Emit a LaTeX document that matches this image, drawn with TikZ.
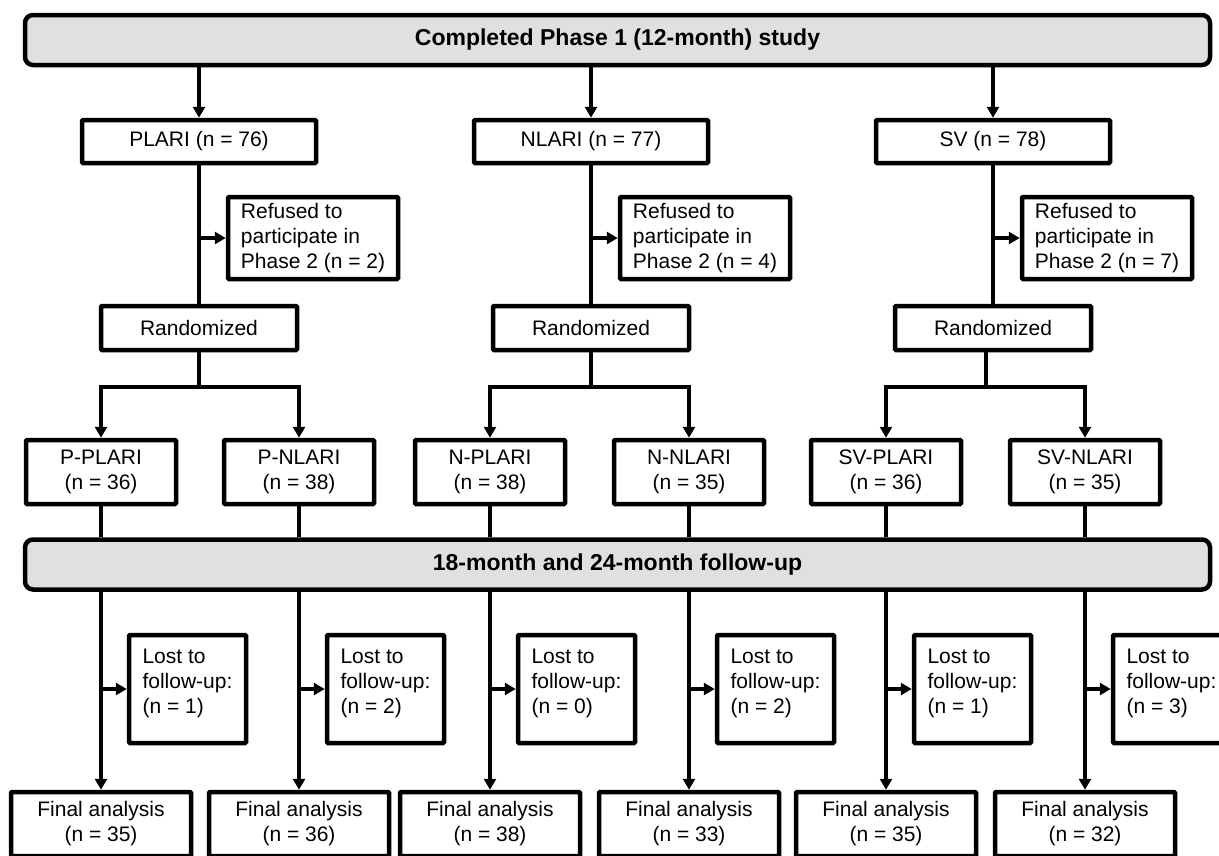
\documentclass[tikz,border=0pt]{standalone}
\usepackage{fontspec}
\setmainfont{Liberation Sans}
\usetikzlibrary{arrows.meta}
\definecolor{bannergray}{RGB}{224,224,224}
\tikzset{
  banner/.style={draw, fill=bannergray, line width=4.5pt, rounded corners=8pt,
    minimum width=1185pt, minimum height=50pt, font=\fontsize{23}{27}\selectfont\bfseries},
  armbox/.style={draw, line width=4.5pt, rounded corners=1pt, minimum width=234pt, minimum height=43pt},
  refbox/.style={draw, line width=4.5pt, rounded corners=1pt, align=left, minimum width=170pt, minimum height=82pt},
  randbox/.style={draw, line width=4.5pt, rounded corners=1pt, minimum width=196pt, minimum height=44pt},
  groupbox/.style={draw, line width=4.5pt, rounded corners=1pt, align=center, minimum width=150pt, minimum height=64pt},
  lostbox/.style={draw, line width=4.5pt, rounded corners=1pt, align=left, text depth=16pt,
    minimum width=117pt, minimum height=108pt},
  finalbox/.style={draw, line width=4.5pt, rounded corners=1pt, align=center, minimum width=180pt, minimum height=64pt},
  flow/.style={line width=3.3pt},
}
\begin{document}
\begin{tikzpicture}[x=1pt, y=-1pt, font=\fontsize{21}{25}\selectfont,
  >={Triangle[length=11pt,width=12pt]}]
\useasboundingbox (0,0) rectangle (1219,855);
\clip (0,0) rectangle (1219,855);

% phase 1
\node[banner] (top) at (617.5,40) {Completed Phase 1 (12-month) study};
\node[armbox] (plari) at (199,141.5) {PLARI (n = 76)};
\node[armbox] (nlari) at (591,141.5) {NLARI (n = 77)};
\node[armbox] (sv) at (993,141.5) {SV (n = 78)};

\node[refbox] (ref1) at (313,238) {Refused to\\participate in\\Phase 2 (n = 2)};
\node[refbox] (ref2) at (705,238) {Refused to\\participate in\\Phase 2 (n = 4)};
\node[refbox] (ref3) at (1107,238) {Refused to\\participate in\\Phase 2 (n = 7)};

\node[randbox] (rand1) at (199,328) {Randomized};
\node[randbox] (rand2) at (591,328) {Randomized};
\node[randbox] (rand3) at (993,328) {Randomized};

\coordinate (split1) at (199,387);
\coordinate (split2) at (591,387);
\coordinate (split3) at (986,387);

% phase 2 groups
\node[groupbox] (pp) at (101,472) {P-PLARI\\(n = 36)};
\node[groupbox] (pn) at (299,472) {P-NLARI\\(n = 38)};
\node[groupbox] (np) at (490,472) {N-PLARI\\(n = 38)};
\node[groupbox] (nn) at (689,472) {N-NLARI\\(n = 35)};
\node[groupbox] (sp) at (886,472) {SV-PLARI\\(n = 36)};
\node[groupbox] (sn) at (1085,472) {SV-NLARI\\(n = 35)};

\node[banner] (fu) at (617.5,564.5) {18-month and 24-month follow-up};

\node[lostbox] (lost1) at (187.5,689) {Lost to\\follow-up:\\(n = 1)};
\node[lostbox] (lost2) at (385.5,689) {Lost to\\follow-up:\\(n = 2)};
\node[lostbox] (lost3) at (576.5,689) {Lost to\\follow-up:\\(n = 0)};
\node[lostbox] (lost4) at (775.5,689) {Lost to\\follow-up:\\(n = 2)};
\node[lostbox] (lost5) at (972.5,689) {Lost to\\follow-up:\\(n = 1)};
\node[lostbox] (lost6) at (1171.5,689) {Lost to\\follow-up:\\(n = 3)};

\node[finalbox] (fin1) at (101,824) {Final analysis\\(n = 35)};
\node[finalbox] (fin2) at (299,824) {Final analysis\\(n = 36)};
\node[finalbox] (fin3) at (490,824) {Final analysis\\(n = 38)};
\node[finalbox] (fin4) at (689,824) {Final analysis\\(n = 33)};
\node[finalbox] (fin5) at (886,824) {Final analysis\\(n = 35)};
\node[finalbox] (fin6) at (1085,824) {Final analysis\\(n = 32)};

% connectors
\draw[flow,->] (top.south -| plari) -- (plari.north);
\draw[flow,->] (top.south -| nlari) -- (nlari.north);
\draw[flow,->] (top.south -| sv) -- (sv.north);

\draw[flow] (plari.south) -- (rand1.north);
\draw[flow] (nlari.south) -- (rand2.north);
\draw[flow] (sv.south) -- (rand3.north);
\draw[flow,->] (ref1.west -| plari) -- (ref1.west);
\draw[flow,->] (ref2.west -| nlari) -- (ref2.west);
\draw[flow,->] (ref3.west -| sv) -- (ref3.west);

\draw[flow] (rand1.south) -- (split1);
\draw[flow] (rand2.south) -- (split2);
\draw[flow] (rand3.south -| split3) -- (split3);
\draw[flow,->] (split1) -| (pp.north);
\draw[flow,->] (split1) -| (pn.north);
\draw[flow,->] (split2) -| (np.north);
\draw[flow,->] (split2) -| (nn.north);
\draw[flow,->] (split3) -| (sp.north);
\draw[flow,->] (split3) -| (sn.north);

\draw[flow] (pp.south) -- (pp.south |- fu.north);
\draw[flow] (pn.south) -- (pn.south |- fu.north);
\draw[flow] (np.south) -- (np.south |- fu.north);
\draw[flow] (nn.south) -- (nn.south |- fu.north);
\draw[flow] (sp.south) -- (sp.south |- fu.north);
\draw[flow] (sn.south) -- (sn.south |- fu.north);

\draw[flow,->] (fu.south -| fin1) -- (fin1.north);
\draw[flow,->] (fu.south -| fin2) -- (fin2.north);
\draw[flow,->] (fu.south -| fin3) -- (fin3.north);
\draw[flow,->] (fu.south -| fin4) -- (fin4.north);
\draw[flow,->] (fu.south -| fin5) -- (fin5.north);
\draw[flow,->] (fu.south -| fin6) -- (fin6.north);

\draw[flow,->] (lost1.west -| fin1) -- (lost1.west);
\draw[flow,->] (lost2.west -| fin2) -- (lost2.west);
\draw[flow,->] (lost3.west -| fin3) -- (lost3.west);
\draw[flow,->] (lost4.west -| fin4) -- (lost4.west);
\draw[flow,->] (lost5.west -| fin5) -- (lost5.west);
\draw[flow,->] (lost6.west -| fin6) -- (lost6.west);
\end{tikzpicture}
\end{document}
